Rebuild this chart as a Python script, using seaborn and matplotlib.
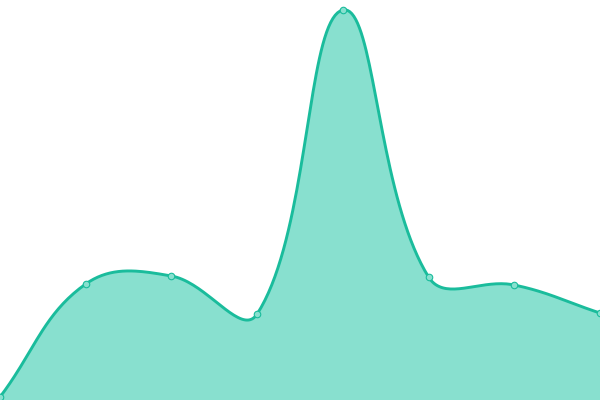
import numpy as np
import pandas as pd
import seaborn as sns
import matplotlib
matplotlib.use("Agg")
import matplotlib.pyplot as plt

# Data (one point per category)
categories = ["A", "B", "C", "D", "E", "F", "G", "H"]
values = [3, 116, 124, 86, 390, 123, 115, 87]

LINE = "#1abc9c"
FILL = "#88e0cf"
TENSION = 0.4

sns.set_theme(style="white")

fig = plt.figure(figsize=(6, 4), dpi=100)
ax = fig.add_axes([0, 0, 1, 1])
ax.set_xlim(0, len(categories) - 1)
ax.set_ylim(0, 400)
ax.axis("off")

df = pd.DataFrame({"idx": np.arange(len(categories)), "value": values})

# Smooth curve (Chart.js-like spline, computed in pixel space)
pts = ax.transData.transform(df[["idx", "value"]].to_numpy(dtype=float))
W, H = fig.bbox.width, fig.bbox.height
n = len(pts)
cp_prev = pts.copy()
cp_next = pts.copy()
for i in range(n):
    p0 = pts[i - 1] if i > 0 else pts[i]
    p1 = pts[i]
    p2 = pts[i + 1] if i < n - 1 else pts[i]
    d01 = np.hypot(*(p1 - p0))
    d12 = np.hypot(*(p2 - p1))
    tot = d01 + d12
    fa = TENSION * d01 / tot if tot else 0
    fb = TENSION * d12 / tot if tot else 0
    cp_prev[i] = p1 - fa * (p2 - p0)
    cp_next[i] = p1 + fb * (p2 - p0)
cp_prev[:, 0] = cp_prev[:, 0].clip(0, W)
cp_prev[:, 1] = cp_prev[:, 1].clip(0, H)
cp_next[:, 0] = cp_next[:, 0].clip(0, W)
cp_next[:, 1] = cp_next[:, 1].clip(0, H)

t = np.linspace(0, 1, 40)[:, None]
curve = []
for i in range(n - 1):
    a, b, c, d = pts[i], cp_next[i], cp_prev[i + 1], pts[i + 1]
    seg = (1 - t) ** 3 * a + 3 * (1 - t) ** 2 * t * b + 3 * (1 - t) * t ** 2 * c + t ** 3 * d
    curve.append(seg if i == 0 else seg[1:])
curve = ax.transData.inverted().transform(np.vstack(curve))

ax.fill_between(curve[:, 0], curve[:, 1], 0, color=FILL, lw=0, zorder=1)
sns.lineplot(x=curve[:, 0], y=curve[:, 1], sort=False, color=LINE, lw=2.1, ax=ax, zorder=2)
sns.scatterplot(data=df, x="idx", y="value", s=22, color=FILL, edgecolor=LINE,
                linewidth=0.8, ax=ax, zorder=3, clip_on=False)

ax.set_xlim(0, len(categories) - 1)
ax.set_ylim(0, 400)
ax.axis("off")

fig.savefig("out.png", dpi=100)
